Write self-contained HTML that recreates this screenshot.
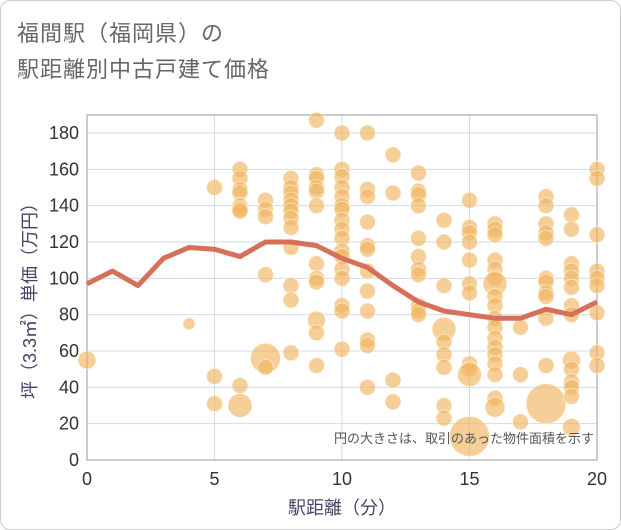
<!DOCTYPE html>
<html><head><meta charset="utf-8"><style>
body{margin:0;background:#fff;font-family:"Liberation Sans","Noto Sans CJK JP",sans-serif;}
#wrap{position:relative;width:619px;height:528px;border:1px solid #ccc;border-radius:10px;overflow:hidden;background:#fff}
.title{position:absolute;left:16px;font-size:22px;color:#666;letter-spacing:1px}
</style></head><body>
<div id="wrap">
<div class="title" style="top:15px">福間駅（福岡県）の</div>
<div class="title" style="top:51px">駅距離別中古戸建て価格</div>
<svg id="chart" width="621" height="530" style="position:absolute;left:-1px;top:-1px"></svg>
</div>
<script>
const xTicks=[0,5,10,15,20];
const yTicks=[0,20,40,60,80,100,120,140,160,180];
const lineX=[0,1,2,3,4,5,6,7,8,9,10,11,12,13,14,15,16,17,18,19,20];
const lineY=[97,104,96,111,117,116,112,120,120,118,111,106,96,87,82,80,78,78,83,80,87];
const ptX=[0,4,5,5,5,6,6,6,6,6,6,6,6,6,7,7,7,7,7,7,8,8,8,8,8,8,8,8,8,8,8,8,9,9,9,9,9,9,9,9,9,9,9,9,
10,10,10,10,10,10,10,10,10,10,10,10,10,10,10,10,10,
11,11,11,11,11,11,11,11,11,11,11,11,12,12,12,12,
13,13,13,13,13,13,13,13,13,13,13,
14,14,14,14,14,14,14,14,14,
15,15,15,15,15,15,15,15,15,15,15,
16,16,16,16,16,16,16,16,16,16,16,16,16,16,16,16,16,16,
17,17,17,18,18,18,18,18,18,18,18,18,18,18,18,
19,19,19,19,19,19,19,19,19,19,19,19,19,19,
20,20,20,20,20,20,20,20,20];
const ptY=[55,75,150,46,31,160,155,149,147,140,138,137,41,30,143,138,134,102,56,51,155,150,147,143,140,137,133,128,117,96,88,59,187,157,155,150,148,140,108,100,98,77,70,52,
180,160,156,150,145,140,138,132,127,122,115,112,105,100,85,82,61,
180,149,145,131,118,116,104,93,82,66,63,40,168,147,44,32,
158,148,146,140,122,112,105,102,85,82,80,
132,120,96,72,65,58,51,30,23,
143,128,125,120,110,97,92,53,50,47,13,
130,127,124,110,105,100,97,90,85,78,73,67,62,58,53,47,34,29,
73,47,21,145,140,130,125,122,100,98,92,90,78,52,31,
135,127,108,104,100,95,85,80,55,50,43,40,35,18,
160,155,124,104,100,96,81,59,52];
const ptR=[9,6,7,7,7,7,7,7,7,7,7,7,7,12,7,7,7,7,15,7,7,7,7,7,7,7,7,7,7,7,7,7,7,7,7,7,7,7,7,7,7,9,7,7,
7,7,7,7,7,7,7,7,7,7,7,7,7,7,7,7,7,
7,7,7,7,7,7,7,7,7,7,7,7,7,7,7,7,
7,7,7,7,7,7,7,7,7,7,7,
7,7,7,12,7,7,7,7,7,
7,7,7,7,7,7,7,7,7,12,20,
7,7,7,7,7,7,12,7,7,7,7,7,7,7,7,7,7,10,
8,7,7,7,7,7,7,7,7,7,7,7,7,7,20,
7,7,7,7,7,7,7,7,9,7,7,7,7,9,
7,7,7,7,7,7,7,7,7];
const NS="http://www.w3.org/2000/svg";
const svg=document.getElementById('chart');
const L=87,R=597,T=115,B=460;
const sx=v=>L+(v-0)/20*(R-L);
const sy=v=>B-v/180*(460-133);
function mk(tag,attrs,parent){const e=document.createElementNS(NS,tag);for(const k in attrs)e.setAttribute(k,attrs[k]);(parent||svg).appendChild(e);return e;}
yTicks.forEach(v=>{
 const g=mk('line',{x1:L,x2:R,y1:sy(v),y2:sy(v),stroke:'#d0dbe6','stroke-width':1});
 
 
 const t=mk('text',{x:L-8,y:sy(v)+6,'text-anchor':'end','font-size':18,fill:'#333'});
 t.textContent=v;
 
 
});
xTicks.forEach(v=>{
 const g=mk('line',{x1:sx(v),x2:sx(v),y1:T,y2:B,stroke:'#d0dbe6','stroke-width':1});
 
 
 const t=mk('text',{x:sx(v),y:B+25,'text-anchor':'middle','font-size':18,fill:'#333'});
 t.textContent=v;
 
 
});
const fr=mk('rect',{x:L,y:T,width:R-L,height:B-T,fill:'none',stroke:'#999','stroke-width':1});


ptX.forEach((x,i)=>{
 const c=mk('circle',{cx:sx(x),cy:sy(ptY[i]),r:ptR[i]===7?8:ptR[i],fill:'#f0b660','fill-opacity':0.65,stroke:'#fff','stroke-opacity':0.5,'stroke-width':1});
 
 
});
const ln=mk('polyline',{points:lineX.map((x,i)=>sx(x)+','+sy(lineY[i])).join(' '),fill:'none',stroke:'#d6705a','stroke-width':5,'stroke-linejoin':'round'});


const note=mk('text',{x:594,y:443,'text-anchor':'end','font-size':13,fill:'#555'});
note.textContent='円の大きさは、取引のあった物件面積を示す';


const xt=mk('text',{x:sx(10),y:514,'text-anchor':'middle','font-size':18,fill:'#446'});
xt.textContent='駅距離（分）';


const yt=mk('text',{x:0,y:0,'text-anchor':'middle','font-size':18,fill:'#446',transform:'translate(36,'+sy(90)+') rotate(-90)'});
yt.textContent='坪（3.3㎡）単価（万円）';


</script>
</body></html>
